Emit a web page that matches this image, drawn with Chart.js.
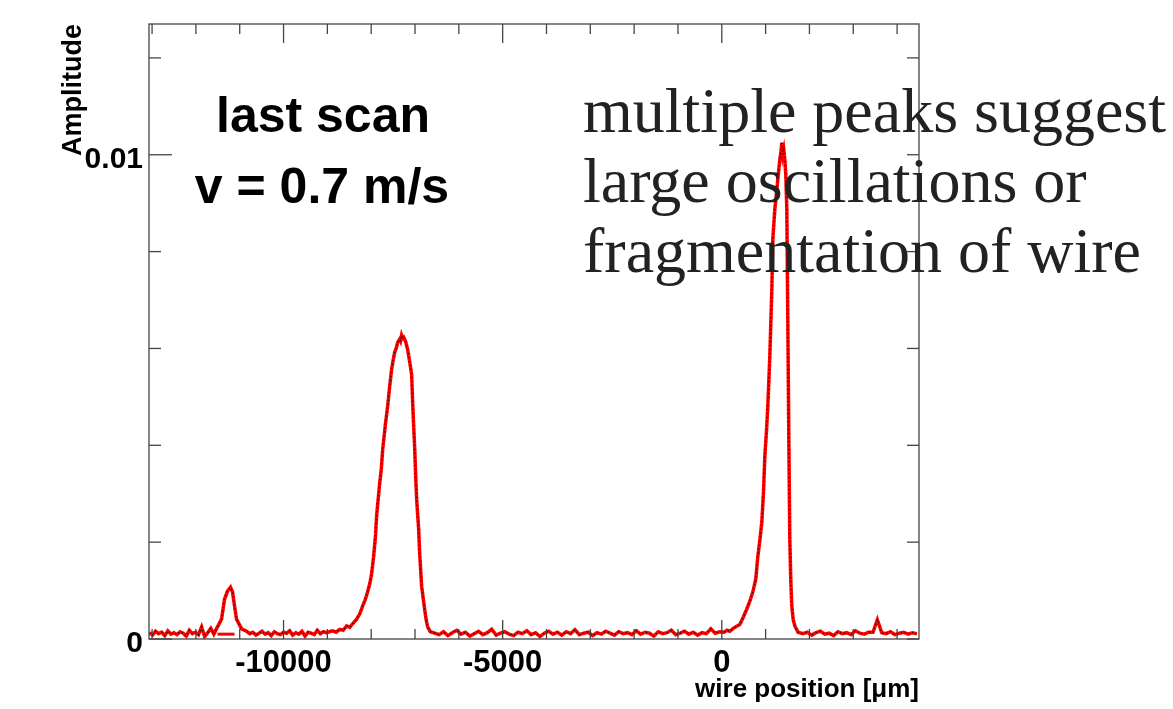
<!DOCTYPE html>
<html><head><meta charset="utf-8">
<script src="https://cdn.jsdelivr.net/npm/chart.js@4.4.1/dist/chart.umd.min.js"></script>
<style>html,body{margin:0;padding:0;background:#fff;}canvas{display:block;}</style>
</head><body>
<canvas id="c" width="1173" height="709"></canvas>
<script>
// wire position in micrometres
const wirePosition = [
  -13060,-12990,-12920,-12850,-12780,-12710,-12640,-12570,-12500,-12430,-12360,-12290,-12220,-12150,-12080,-12010,-11940,-11870,-11800,-11730,-11660,-11590,
  -11529,-11415,-11347,-11278,-11210,-11164,-11118,-11073,-10958,-10844,
  -10770,-10700,-10630,-10560,-10490,-10420,-10350,-10280,-10210,-10140,-10070,-10000,-9930,-9860,-9790,-9720,-9650,-9580,-9510,-9440,-9370,-9300,-9230,-9160,-9090,-9020,
  -8950,-8881,-8800,-8720,-8640,-8561,-8490,-8420,-8333,-8260,-8196,-8140,-8082,-8030,-7990,-7945,-7900,-7876,-7808,-7770,-7739,-7680,-7625,-7580,-7534,-7500,-7465,-7430,-7397,-7351,-7330,-7306,-7283,-7260,-7214,-7169,-7123,-7077,-7054,-7031,-7009,-6986,-6963,-6917,-6895,-6849,-6815,-6781,-6746,-6712,-6650,
  -6550,-6450,-6350,-6250,-6150,-6050,-5950,-5850,-5750,-5650,-5550,-5450,-5350,-5250,-5150,-5050,-4950,-4850,-4750,-4650,-4550,-4450,-4350,-4250,-4150,-4050,-3950,-3850,-3750,-3650,-3550,-3450,-3350,-3250,-3150,-3050,-2950,-2850,-2750,-2650,-2550,-2450,-2350,-2250,-2150,-2050,-1950,-1850,-1750,-1650,-1550,-1450,-1350,-1250,-1150,-1050,-950,-850,-750,-650,-550,-450,-350,-250,-150,-50,
  50,120,183,260,330,411,490,571,640,708,776,822,870,913,950,982,1020,1050,1096,1142,1164,1210,1256,1290,1324,1350,1370,1393,1415,1438,1460,1484,1507,1530,1552,1575,1598,1630,1667,1740,
  1850,1950,2050,2150,2250,2350,2450,2550,2650,2750,2850,2950,3050,3150,3250,3350,3450,3550,3650,3750,3850,3950,4050,4150,4250,4350,4450
];
const amplitude = [
  0.00013,0.00008,0.00016,0.00011,0.00014,0.00007,0.00017,0.00010,0.00013,0.00009,0.00015,0.00012,0.00006,0.00018,0.00011,0.00014,0.00009,0.00025,0.00005,0.00013,0.00022,0.00010,
  0.00021,0.00041,0.00082,0.00099,0.00107,0.00097,0.00068,0.00041,0.00021,0.00016,
  0.00011,0.00014,0.00008,0.00012,0.00016,0.00010,0.00013,0.00007,0.00015,0.00011,0.00009,0.00014,0.00012,0.00017,0.00008,0.00013,0.00010,0.00016,0.00006,0.00014,0.00012,0.00009,0.00018,0.00011,0.00015,0.00013,
  0.00015,0.00017,0.00014,0.00020,0.00018,0.00027,0.00024,0.00032,0.00041,0.00052,0.00068,0.00080,0.00097,0.00115,0.00135,0.00170,0.00215,0.00255,0.00320,0.00350,0.00390,0.00440,0.00480,0.00520,0.00557,0.00575,0.00592,0.00600,0.00612,0.00619,0.00615,0.00627,0.00621,0.00623,0.00614,0.00598,0.00573,0.00546,0.00489,0.00440,0.00398,0.00340,0.00289,0.00227,0.00179,0.00109,0.00085,0.00062,0.00040,0.00025,0.00015,
  0.00012,0.00009,0.00015,0.00007,0.00013,0.00018,0.00010,0.00014,0.00006,0.00011,
  0.00016,0.00009,0.00013,0.00020,0.00008,0.00012,0.00015,0.00010,0.00007,0.00014,
  0.00011,0.00017,0.00009,0.00013,0.00005,0.00012,0.00016,0.00010,0.00014,0.00008,
  0.00015,0.00011,0.00019,0.00009,0.00012,0.00014,0.00007,0.00013,0.00010,0.00016,
  0.00012,0.00008,0.00015,0.00011,0.00013,0.00009,0.00017,0.00010,0.00014,0.00012,
  0.00006,0.00015,0.00011,0.00013,0.00018,0.00009,0.00012,0.00016,0.00010,0.00014,
  0.00008,0.00013,0.00011,0.00021,0.00012,0.00015,
  0.00014,0.00018,0.00016,0.00022,0.00026,0.00030,0.00045,0.00062,0.00078,0.00097,0.00124,0.00170,0.00205,0.00241,0.00300,0.00377,0.00430,0.00480,0.00584,0.00722,0.00825,0.00887,0.00928,0.00960,0.00990,0.01005,0.01025,0.01000,0.01010,0.00990,0.00960,0.00887,0.00654,0.00412,0.00206,0.00120,0.00068,0.00040,0.00027,0.00014,
  0.00011,0.00014,0.00008,0.00013,0.00016,0.00010,0.00012,0.00007,0.00015,0.00011,0.00013,0.00009,0.00017,0.00012,0.00010,0.00014,0.00014,0.00040,0.00013,0.00011,0.00015,0.00009,0.00012,0.00014,0.00010,0.00013,0.00011
];
// short flat fit segment under the small peak
const fitSegmentX = [-11506, -11118];
const fitSegmentY = [0.0001, 0.0001];

// tick positions (minor every 1000 um, labelled every 5000 um)
const xTickValues = [-13000,-12000,-11000,-10000,-9000,-8000,-7000,-6000,-5000,-4000,-3000,-2000,-1000,0,1000,2000,3000,4000];
const xTickLabels = [-10000, -5000, 0];
const yTickValues = [0, 0.002, 0.004, 0.006, 0.008, 0.01, 0.012];
const yTickLabels = [0, 0.01];
const xTitle = 'wire position [\u03BCm]';
const yTitle = 'Amplitude';
const boxLines = ['last scan', 'v = 0.7 m/s'];
const noteLines = ['multiple peaks suggest', 'large oscillations or', 'fragmentation of wire'];

const points = wirePosition.map((x, i) => ({x, y: amplitude[i]}));
const fitPoints = fitSegmentX.map((x, i) => ({x, y: fitSegmentY[i]}));

const SANS = "'Liberation Sans', Arial, Helvetica, sans-serif";
const SERIF = "'Liberation Serif', 'Times New Roman', serif";

const framePlugin = {
  id: 'framePlugin',
  afterDatasetsDraw(chart) {
    const {ctx, chartArea: a, scales: {x, y}} = chart;
    ctx.save();
    ctx.strokeStyle = '#444';
    ctx.lineWidth = 1.3;
    const line = (x1, y1, x2, y2) => { ctx.beginPath(); ctx.moveTo(x1, y1); ctx.lineTo(x2, y2); ctx.stroke(); };
    ctx.strokeRect(a.left, a.top, a.right - a.left, a.bottom - a.top);
    x.ticks.forEach(t => {
      const px = x.getPixelForValue(t.value);
      const len = xTickLabels.includes(t.value) ? 19 : 10;
      line(px, a.bottom, px, a.bottom - len);
      line(px, a.top, px, a.top + len);
    });
    y.ticks.forEach(t => {
      const py = y.getPixelForValue(t.value);
      const major = yTickLabels.some(v => Math.abs(v - t.value) < 1e-9);
      line(a.left, py, a.left + (major ? 23 : 12), py);
      line(a.right, py, a.right - 12, py);
    });
    // text
    ctx.fillStyle = '#000';
    ctx.font = 'bold 50px ' + SANS;
    ctx.textAlign = 'center';
    ctx.textBaseline = 'alphabetic';
    ctx.fillText(boxLines[0], 323, 132);
    ctx.fillText(boxLines[1], 322, 203);
    ctx.fillStyle = '#222';
    ctx.font = '64px ' + SERIF;
    ctx.textAlign = 'left';
    ctx.fillText(noteLines[0], 583, 132);
    ctx.fillText(noteLines[1], 583, 202);
    ctx.fillText(noteLines[2], 583, 272);
    ctx.restore();
  }
};

new Chart(document.getElementById('c'), {
  type: 'line',
  data: {
    datasets: [
      {data: points, borderColor: '#ff0000', borderWidth: 3.5, pointRadius: 0, tension: 0, order: 2},
      {data: points, borderColor: '#000000', borderWidth: 1.2, borderDash: [1, 3], pointRadius: 0, tension: 0, order: 1},
      {data: fitPoints, borderColor: '#ff0000', borderWidth: 3, pointRadius: 0, tension: 0, order: 3}
    ]
  },
  options: {
    responsive: false,
    animation: false,
    devicePixelRatio: 1,
    layout: {padding: {left: 0, top: 24, right: 254, bottom: 0}},
    plugins: {legend: {display: false}, tooltip: {enabled: false}},
    scales: {
      x: {
        type: 'linear', min: -13070, max: 4500,
        grid: {display: false, drawTicks: false},
        border: {display: false},
        afterFit(s) { s.height = 70; },
        afterBuildTicks(s) { s.ticks = xTickValues.map(v => ({value: v})); },
        ticks: {
          autoSkip: false, maxRotation: 0, minRotation: 0, padding: 6,
          color: '#000', font: {family: SANS, size: 31, weight: 'bold'},
          callback: v => xTickLabels.includes(v) ? String(v) : ''
        },
        title: {display: true, text: xTitle, align: 'end', color: '#000',
          font: {family: SANS, size: 26, weight: 'bold'}, padding: {top: 0, bottom: 4}}
      },
      y: {
        type: 'linear', min: 0, max: 0.0127,
        grid: {display: false, drawTicks: false},
        border: {display: false},
        afterFit(s) { s.width = 149; },
        afterBuildTicks(s) { s.ticks = yTickValues.map(v => ({value: v})); },
        ticks: {
          autoSkip: false, padding: 6,
          color: '#000', font: {family: SANS, size: 30, weight: 'bold', lineHeight: '10px'},
          callback: v => { const m = yTickLabels.find(l => Math.abs(l - v) < 1e-9); return m === undefined ? '' : ['', String(m)]; }
        },
        title: {display: true, text: yTitle, align: 'end', color: '#000',
          font: {family: SANS, size: 27, weight: 'bold'}, padding: {top: 57, bottom: 0}}
      }
    }
  },
  plugins: [framePlugin]
});
</script>
</body></html>
